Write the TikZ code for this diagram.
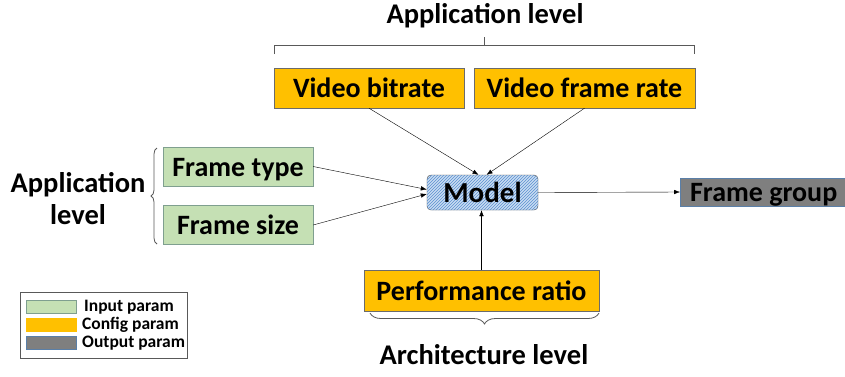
\documentclass[tikz,border=0pt]{standalone}
\usepackage{fontspec}
\setmainfont{Carlito}
\usetikzlibrary{positioning,calc,patterns,decorations.pathreplacing,arrows.meta}
\definecolor{ingreen}{HTML}{C5E0B4}
\definecolor{inedge}{HTML}{7F9F8F}
\definecolor{cfgorange}{HTML}{FFC000}
\definecolor{cfgedge}{HTML}{6B6B6B}
\definecolor{outgray}{HTML}{7F7F7F}
\definecolor{outedge}{HTML}{5A7FA8}
\definecolor{modelblue}{HTML}{C9DDF2}
\definecolor{hatchblue}{HTML}{5B8FD0}
\definecolor{bracegray}{HTML}{595959}

\tikzset{
  box/.style={draw, inner sep=0pt, minimum height=40pt, text=black,
    text height=22pt, text depth=3pt},
  inbox/.style={box, fill=ingreen, draw=inedge, minimum width=150pt, minimum height=39pt},
  cfgbox/.style={box, fill=cfgorange, draw=cfgedge},
  outbox/.style={box, fill=outgray, draw=outedge, minimum width=170pt, minimum height=28pt},
  modelbox/.style={box, fill=modelblue, draw=black!75, rounded corners=4pt,
    minimum width=111pt, minimum height=35pt,
    postaction={pattern=north east lines, pattern color=hatchblue}},
  bracket/.style={draw=bracegray, line width=0.8pt},
  levellabel/.style={font=\bfseries\fontsize{28.5}{32}\selectfont, align=center},
  swatch/.style={draw, minimum width=50pt, minimum height=13pt, inner sep=0pt},
  legendtext/.style={font=\bfseries\fontsize{17.5}{19}\selectfont, anchor=west, inner sep=0pt}
}

\begin{document}
\begin{tikzpicture}[x=1pt,y=-1pt,font=\bfseries\fontsize{28}{30}\selectfont,
  >={Latex[length=6pt,width=4.5pt]}]
\useasboundingbox (0,0) rectangle (845,376);

% parameter boxes
\node[cfgbox, minimum width=190pt] (bitrate) at (369,88) {Video bitrate};
\node[cfgbox, minimum width=221pt] (framerate) at (584.5,88) {Video frame rate};
\node[modelbox, font=\bfseries\fontsize{29}{30}\selectfont] (model) at (482.5,192.5) {Model};
\node[inbox] (ftype) at (238,166.5) {Frame type};
\node[inbox] (fsize) at (238,225) {Frame size};
\node[outbox, anchor=west] (fgroup) at (680,192) {\hspace*{-3pt}Frame group};
\node[cfgbox, minimum width=235pt, minimum height=41pt] (perf) at (481.5,290.5) {Performance ratio};

% connectors
\draw[->] (bitrate.south) -- ([xshift=-4pt]model.north);
\draw[->] (framerate.south) -- ([xshift=4pt]model.north);
\draw[->] (ftype.east) -- ([yshift=3pt]model.west);
\draw[->] (fsize.east) -- ([yshift=-1.5pt]model.west);
\draw[->] (perf.north) -- (perf.north |- model.south);
\draw[->] (model.east) -- (fgroup.west);

% level brackets
\draw[bracket] (274,54) -- (274,45) -- (694,45) -- (694,54);
\draw[bracket] (484,45) -- (484,37);
\node[levellabel] (applevel) at (485,16) {Application level};
\draw[bracket, decorate, decoration={brace, amplitude=6pt}] (157,244) -- (157,148);
\node[levellabel] (appleft) at (78,199) {Application\\level};
\draw[bracket, decorate, decoration={brace, amplitude=11pt}] (599,313) -- (370,313);
\node[levellabel] (archlevel) at (484,355) {Architecture level};

% legend
\draw[draw=bracegray] (20,292) rectangle (187,358);
\node[swatch, fill=ingreen, draw=inedge] (swin) at (51,306.5) {};
\node[swatch, fill=cfgorange, draw=cfgorange] (swcfg) at (51,324.5) {};
\node[swatch, fill=outgray, draw=outedge] (swout) at (51,343) {};
\node[legendtext] (txin) at (84,307) {Input param};
\node[legendtext] (txcfg) at (82,325) {Config param};
\node[legendtext] (txout) at (82,343.5) {Output param};
\end{tikzpicture}
\end{document}
